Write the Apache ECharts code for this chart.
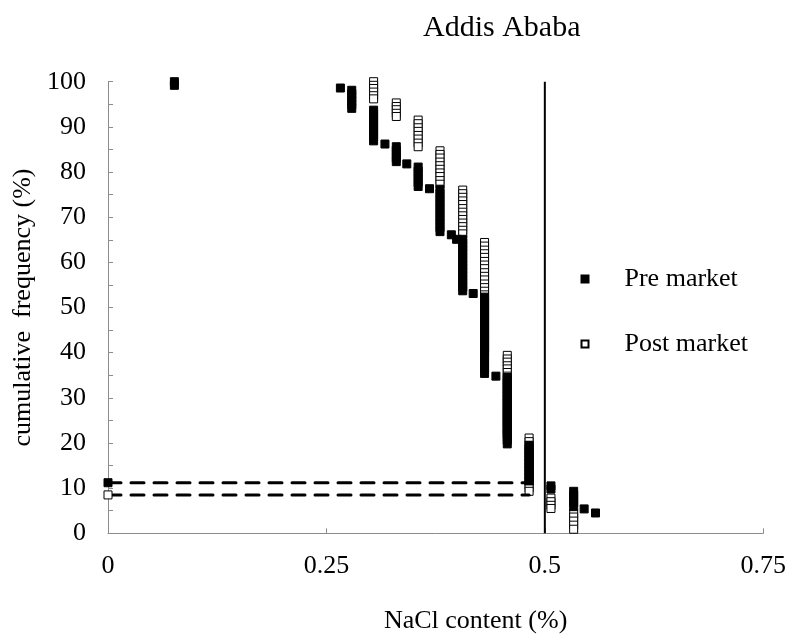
<!DOCTYPE html>
<html>
<head>
<meta charset="utf-8">
<script src="https://cdn.jsdelivr.net/npm/echarts@6/dist/echarts.min.js"></script>
<style>
html,body{margin:0;padding:0;background:#fff;}
#chart{width:789px;height:640px;}
</style>
</head>
<body>
<div id="chart"></div>
<script>
// ---- data (NaCl content %, cumulative frequency %) ----
const titleText = 'Addis Ababa';
const xTicks = [0, 0.25, 0.5, 0.75];
const yTicks = [0, 10, 20, 30, 40, 50, 60, 70, 80, 90, 100];

const preNaCl = [
  0.076, 0.076,
  0.266,
  0.279, 0.279, 0.279, 0.279, 0.279, 0.279,
  0.304, 0.304, 0.304, 0.304, 0.304, 0.304, 0.304, 0.304, 0.304,
  0.317,
  0.330, 0.330, 0.330, 0.330, 0.330,
  0.342,
  0.355, 0.355, 0.355, 0.355, 0.355, 0.355,
  0.368,
  0.380, 0.380, 0.380, 0.380, 0.380, 0.380, 0.380, 0.380, 0.380, 0.380, 0.380, 0.380,
  0.393,
  0.399,
  0.406, 0.406, 0.406, 0.406, 0.406, 0.406, 0.406, 0.406, 0.406, 0.406, 0.406, 0.406, 0.406, 0.406, 0.406,
  0.418,
  0.431, 0.431, 0.431, 0.431, 0.431, 0.431, 0.431, 0.431, 0.431, 0.431, 0.431, 0.431, 0.431, 0.431, 0.431, 0.431, 0.431, 0.431, 0.431, 0.431, 0.431, 0.431,
  0.444,
  0.457, 0.457, 0.457, 0.457, 0.457, 0.457, 0.457, 0.457, 0.457, 0.457, 0.457, 0.457, 0.457, 0.457, 0.457, 0.457, 0.457, 0.457, 0.457,
  0.482, 0.482, 0.482, 0.482, 0.482, 0.482, 0.482, 0.482, 0.482, 0.482, 0.482,
  0.507, 0.507,
  0.533, 0.533, 0.533, 0.533, 0.533,
  0.545,
  0.558
];
const preFreq = [
  100, 99.2,
  98.6,
  98.1, 97.3, 96.5, 95.7, 94.9, 94.1,
  93.7, 92.9, 92.0, 91.2, 90.3, 89.5, 88.6, 87.8, 86.9,
  86.2,
  85.6, 84.8, 83.9, 83.1, 82.3,
  81.8,
  81.1, 80.2, 79.4, 78.5, 77.7, 76.8,
  76.3,
  76.2, 75.3, 74.5, 73.6, 72.8, 71.9, 71.1, 70.2, 69.4, 68.5, 67.7, 66.8,
  66.1,
  65.1,
  65.1, 64.3, 63.5, 62.7, 61.9, 61.0, 60.2, 59.4, 58.6, 57.8, 57.0, 56.1, 55.3, 54.5, 53.7,
  53.1,
  52.3, 51.5, 50.7, 49.9, 49.1, 48.3, 47.5, 46.7, 45.9, 45.1, 44.3, 43.5, 42.7, 41.8, 41.0, 40.2, 39.4, 38.6, 37.8, 37.0, 36.2, 35.4,
  34.8,
  34.5, 33.7, 32.9, 32.0, 31.2, 30.4, 29.6, 28.8, 27.9, 27.1, 26.3, 25.5, 24.7, 23.9, 23.1, 22.2, 21.4, 20.6, 19.8,
  19.4, 18.6, 17.8, 17.0, 16.2, 15.4, 14.6, 13.8, 13.0, 12.2, 11.6,
  10.5, 9.8,
  9.3, 8.5, 7.6, 6.8, 5.9,
  5.4,
  4.5
];

const postNaCl = [
  0.304, 0.304, 0.304, 0.304, 0.304, 0.304,
  0.330, 0.330, 0.330, 0.330, 0.330,
  0.355, 0.355, 0.355, 0.355, 0.355, 0.355, 0.355, 0.355,
  0.380, 0.380, 0.380, 0.380, 0.380, 0.380, 0.380, 0.380, 0.380, 0.380,
  0.406, 0.406, 0.406, 0.406, 0.406, 0.406, 0.406, 0.406, 0.406, 0.406, 0.406, 0.406, 0.406,
  0.431, 0.431, 0.431, 0.431, 0.431, 0.431, 0.431, 0.431, 0.431, 0.431, 0.431, 0.431, 0.431, 0.431, 0.431,
  0.431, 0.431, 0.431, 0.431, 0.431, 0.431, 0.431, 0.431, 0.431, 0.431, 0.431, 0.431, 0.431, 0.431, 0.431,
  0.457, 0.457, 0.457, 0.457, 0.457, 0.457, 0.457, 0.457, 0.457, 0.457, 0.457, 0.457,
  0.457, 0.457, 0.457, 0.457, 0.457, 0.457, 0.457, 0.457, 0.457, 0.457, 0.457,
  0.482, 0.482, 0.482, 0.482, 0.482, 0.482, 0.482, 0.482, 0.482, 0.482, 0.482, 0.482, 0.482, 0.482, 0.482, 0.482,
  0.507, 0.507, 0.507, 0.507,
  0.533, 0.533, 0.533, 0.533, 0.533
];
const postFreq = [
  100, 99.2, 98.5, 97.7, 96.9, 96.2,
  95.3, 94.5, 93.8, 93.0, 92.3,
  91.5, 90.7, 89.8, 89.0, 88.1, 87.3, 86.4, 85.6,
  84.7, 83.9, 83.1, 82.2, 81.4, 80.6, 79.8, 79.0, 78.1, 77.3,
  76.0, 75.2, 74.4, 73.6, 72.8, 71.9, 71.1, 70.3, 69.5, 68.7, 67.9, 67.1, 66.3,
  64.4, 63.6, 62.7, 61.9, 61.1, 60.2, 59.4, 58.6, 57.7, 56.9, 56.1, 55.2, 54.4, 53.6, 52.8,
  51.9, 51.1, 50.3, 49.4, 48.6, 47.8, 46.9, 46.1, 45.3, 44.4, 43.6, 42.8, 41.9, 41.1, 40.3,
  39.4, 38.6, 37.9, 37.1, 36.4, 35.6, 34.8, 34.0, 33.2, 32.4, 31.6, 30.7,
  29.9, 29.1, 28.3, 27.5, 26.7, 25.9, 25.1, 24.3, 23.4, 22.6, 21.8,
  21.1, 20.3, 19.5, 18.7, 17.9, 17.1, 16.3, 15.5, 14.7, 13.9, 13.1, 12.3, 11.5, 10.7, 10.0, 9.3,
  7.8, 7.0, 6.2, 5.5,
  4.4, 3.6, 2.7, 1.8, 0.9
];

// dashed reference lines (start at the y axis, end at the 0.48 column)
const preRefX = [0, 0.482];
const preRefY = [11.2, 11.2];
const postRefX = [0, 0.482];
const postRefY = [8.5, 8.5];

// vertical limit line at 0.5 % NaCl
const limitX = [0.5, 0.5];
const limitY = [0, 100];

// ---- build chart ----
const FONT = 'Liberation Serif';
const pairs = (xs, ys) => xs.map((x, i) => [x, ys[i]]);
const refData = (xs, ys) => xs.map((x, i) => ({ value: [x, ys[i]], symbol: i === 0 ? 'rect' : 'none' }));
const AXIS_GREY = '#8c8c8c';

const chart = echarts.init(document.getElementById('chart'), null, { renderer: 'canvas' });
chart.setOption({
  backgroundColor: '#ffffff',
  animation: false,
  title: {
    text: titleText,
    left: 418,
    top: 8,
    textStyle: { fontFamily: FONT, fontSize: 30, fontWeight: 'normal', color: '#000' }
  },
  legend: {
    data: ['Pre market', 'Post market'],
    orient: 'vertical',
    left: 575.5,
    top: 261,
    itemWidth: 7,
    itemHeight: 7,
    itemGap: 39,
    textStyle: { fontFamily: FONT, fontSize: 26, color: '#000', lineHeight: 26, padding: [0, 0, 0, 31] }
  },
  grid: { left: 108, right: 25.6, top: 81.7, bottom: 106.7, containLabel: false },
  xAxis: {
    type: 'value',
    min: xTicks[0],
    max: xTicks[xTicks.length - 1],
    interval: xTicks[1] - xTicks[0],
    name: 'NaCl content (%)',
    nameLocation: 'middle',
    nameGap: 75,
    nameTextStyle: { fontFamily: FONT, fontSize: 26, color: '#000', padding: [0, 0, 0, 80] },
    axisLine: { show: true, lineStyle: { color: AXIS_GREY, width: 1 } },
    axisTick: { show: true, inside: true, length: 5, lineStyle: { color: AXIS_GREY } },
    axisLabel: { fontFamily: FONT, fontSize: 26, color: '#000', margin: 20 },
    splitLine: { show: false }
  },
  yAxis: {
    type: 'value',
    min: yTicks[0],
    max: yTicks[yTicks.length - 1],
    interval: yTicks[1] - yTicks[0],
    name: 'cumulative  frequency (%)',
    nameLocation: 'middle',
    nameRotate: 90,
    nameGap: 55,
    nameTextStyle: { fontFamily: FONT, fontSize: 26, color: '#000' },
    axisLine: { show: true, lineStyle: { color: AXIS_GREY, width: 1 } },
    axisTick: { show: true, inside: true, length: 5, lineStyle: { color: AXIS_GREY } },
    minorTick: { show: true, splitNumber: 2, length: 5, lineStyle: { color: AXIS_GREY } },
    axisLabel: { fontFamily: FONT, fontSize: 26, color: '#000', margin: 22 },
    splitLine: { show: false }
  },
  series: [
    {
      name: 'limit',
      type: 'line',
      data: pairs(limitX, limitY),
      symbol: 'none',
      lineStyle: { color: '#000', width: 2 },
      z: 1
    },
    {
      name: 'Post market',
      type: 'scatter',
      data: pairs(postNaCl, postFreq),
      symbol: 'rect',
      symbolSize: 8,
      itemStyle: { color: '#fff', borderColor: '#000', borderWidth: 1, opacity: 1 },
      z: 2
    },
    {
      name: 'Pre market',
      type: 'scatter',
      data: pairs(preNaCl, preFreq),
      symbol: 'rect',
      symbolSize: 8,
      itemStyle: { color: '#000', borderColor: '#000', borderWidth: 1, opacity: 1 },
      z: 3
    },
    {
      name: 'preRef',
      type: 'line',
      data: refData(preRefX, preRefY),
      symbolSize: 8,
      showAllSymbol: true,
      itemStyle: { color: '#000', borderColor: '#000', borderWidth: 1 },
      lineStyle: { color: '#000', width: 3, type: [13, 10], cap: 'round' },
      z: 4
    },
    {
      name: 'postRef',
      type: 'line',
      data: refData(postRefX, postRefY),
      symbolSize: 8,
      showAllSymbol: true,
      itemStyle: { color: '#fff', borderColor: '#000', borderWidth: 1 },
      lineStyle: { color: '#000', width: 3, type: [13, 10], cap: 'round' },
      z: 4
    }
  ]
});
</script>
</body>
</html>
